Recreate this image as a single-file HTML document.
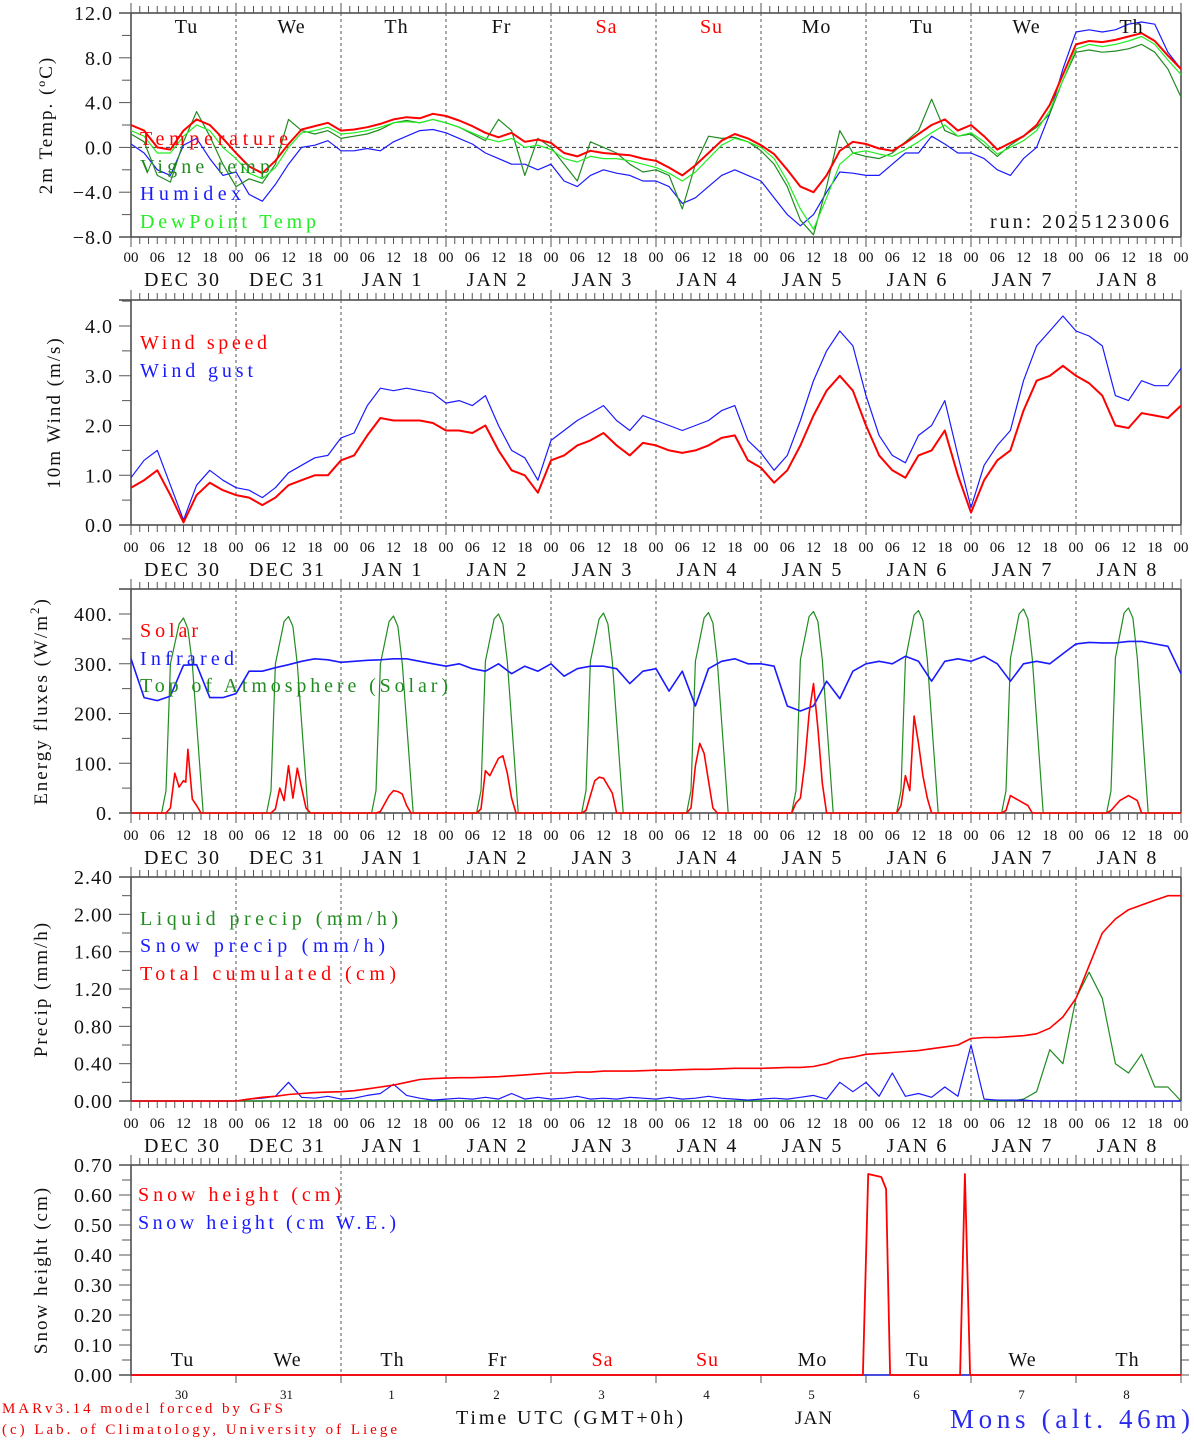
<!DOCTYPE html>
<html><head><meta charset="utf-8"><style>
html,body{margin:0;padding:0;background:#fff;}
svg{display:block;}
text{font-family:"Liberation Serif",serif;}
</style></head><body>
<svg id="chart" width="1194" height="1440" viewBox="0 0 1194 1440" xmlns="http://www.w3.org/2000/svg">
<g id="axes"></g>
<g id="marks"></g>
<g id="labels"></g>
</svg>
<script>
// ---------- DATA (3-hourly, h = 0..240) ----------
const dayNames = ["Tu","We","Th","Fr","Sa","Su","Mo","Tu","We","Th"];
const dateLabels = [["DEC","30"],["DEC","31"],["JAN","1"],["JAN","2"],["JAN","3"],["JAN","4"],["JAN","5"],["JAN","6"],["JAN","7"],["JAN","8"]];
const dayNums = ["30","31","1","2","3","4","5","6","7","8"];
const hourTicks = ["00","06","12","18"];

const tempVals = [2.0,1.5,0.0,-0.2,1.5,2.5,2.0,0.8,-0.5,-1.7,-2.3,-1.2,0.3,1.6,1.9,2.2,1.5,
1.6,1.8,2.1,2.5,2.7,2.6,3.0,2.8,2.4,1.9,
1.3,0.9,1.3,0.5,0.7,0.4,-0.5,-0.8,-0.3,-0.5,
-0.6,-0.7,-1.0,-1.2,-1.8,-2.5,-1.6,-0.5,0.6,1.2,
0.8,0.2,-0.6,-2.0,-3.5,-4.0,-2.5,-0.3,0.5,0.3,
-0.1,-0.3,0.4,1.2,2.0,2.5,1.5,2.0,1.0,-0.2,
0.4,1.0,2.0,3.8,6.5,9.2,9.5,9.4,9.6,9.9,
10.2,9.5,8.2,7.0];
const vigneVals = [1.2,0.5,-2.5,-3.1,0.5,3.2,1.0,-1.5,-3.5,-2.8,-3.2,-1.5,2.5,1.5,1.2,1.5,0.8,
1.0,1.2,1.6,2.2,2.4,2.2,2.5,2.2,1.8,1.2,
0.6,2.5,1.5,-2.5,0.8,0.0,-1.5,-3.0,0.5,0.0,
-0.5,-1.5,-2.2,-2.0,-2.5,-5.5,-1.5,1.0,0.8,0.9,
0.5,-0.3,-1.5,-3.5,-6.5,-7.8,-3.5,1.5,-0.5,-0.8,
-1.0,-0.5,0.5,1.5,4.3,1.5,1.0,1.2,0.2,-0.8,
0.2,1.0,1.8,3.0,6.0,8.5,8.7,8.5,8.6,8.8,
9.2,8.5,7.0,4.5];
const humidexVals = [0.3,-0.5,-2.0,-2.5,0.2,0.8,-1.0,-2.5,-2.2,-4.2,-4.8,-3.3,-1.5,0.0,0.2,0.6,-0.3,
-0.3,-0.1,-0.3,0.5,1.0,1.5,1.6,1.3,0.8,0.3,
-0.5,-1.0,-1.5,-1.5,-2.0,-1.5,-3.0,-3.5,-2.5,-2.0,
-2.3,-2.5,-3.0,-3.0,-3.5,-5.0,-4.5,-3.5,-2.5,-2.0,
-2.5,-3.0,-4.5,-6.0,-7.0,-6.0,-4.0,-2.2,-2.3,-2.5,
-2.5,-1.5,-0.5,-0.5,1.0,0.3,-0.5,-0.5,-1.0,-2.0,
-2.5,-1.0,0.0,3.0,7.0,10.3,10.5,10.3,10.5,11.0,
11.2,11.0,8.5,7.0];
const dewVals = [1.5,1.0,-0.5,-0.5,1.0,2.0,1.5,0.0,-1.0,-2.3,-2.8,-1.8,0.0,1.3,1.5,1.8,1.2,
1.3,1.5,1.8,2.2,2.3,2.2,2.5,2.2,1.8,1.3,
0.8,0.5,0.8,0.0,0.2,-0.2,-1.0,-1.3,-0.8,-1.0,
-1.0,-1.2,-1.5,-1.8,-2.3,-3.0,-2.2,-1.0,0.2,0.8,
0.5,0.0,-1.0,-3.0,-5.5,-7.3,-4.5,-1.5,-0.5,-0.3,
-0.6,-0.8,-0.2,0.5,1.3,2.0,1.0,1.3,0.5,-0.6,
0.0,0.6,1.5,3.3,6.0,8.8,9.2,9.0,9.2,9.5,
9.9,9.2,7.8,6.5];

const windVals = [.75,.9,1.1,.6,.05,.6,.85,.7,.6,.55,.4,.55,.8,.9,1.0,1.0,1.3,
1.4,1.8,2.15,2.1,2.1,2.1,2.05,1.9,1.9,1.85,
2.0,1.5,1.1,1.0,0.65,1.3,1.4,1.6,1.7,1.85,
1.6,1.4,1.65,1.6,1.5,1.45,1.5,1.6,1.75,1.8,
1.3,1.15,0.85,1.1,1.6,2.2,2.7,3.0,2.7,2.0,
1.4,1.1,0.95,1.4,1.5,1.9,1.0,0.25,0.9,1.3,
1.5,2.3,2.9,3.0,3.2,3.0,2.85,2.6,2.0,1.95,
2.25,2.2,2.15,2.4];
const gustVals = [.95,1.3,1.5,.8,.1,.8,1.1,.9,.75,.7,.55,.75,1.05,1.2,1.35,1.4,1.75,
1.85,2.4,2.75,2.7,2.75,2.7,2.65,2.45,2.5,2.4,
2.6,2.0,1.5,1.35,0.9,1.7,1.9,2.1,2.25,2.4,
2.1,1.9,2.2,2.1,2.0,1.9,2.0,2.1,2.3,2.4,
1.7,1.45,1.1,1.4,2.1,2.9,3.5,3.9,3.6,2.6,
1.8,1.4,1.25,1.8,2.0,2.5,1.4,0.35,1.2,1.6,
1.9,2.9,3.6,3.9,4.2,3.9,3.8,3.6,2.6,2.5,
2.9,2.8,2.8,3.15];

const infraredVals = [310,232,226,235,297,298,232,232,240,285,285,292,298,305,310,308,303,
305,307,308,310,310,305,300,295,300,290,
285,300,280,295,285,300,275,290,295,295,
290,260,285,290,245,285,215,290,305,310,
300,300,295,215,205,215,265,230,285,300,
305,300,315,305,265,305,310,305,315,300,
265,300,305,300,320,340,343,342,342,345,
345,340,335,280];
// [hour, W/m2]
const toaPoints = [[0,0],[7,0],[8,45],[9,300],[11,380],[12,392],[13,370],[14,300],[16.5,0],
[31,0],[32,45],[33,300],[35,385],[36,395],[37,375],[38,300],[40.5,0],
[55,0],[56,45],[57,300],[59,385],[60,396],[61,375],[62,300],[64.5,0],
[79,0],[80,45],[81,305],[83,390],[84,400],[85,380],[86,305],[88.5,0],
[103,0],[104,45],[105,305],[107,390],[108,402],[109,380],[110,305],[112.5,0],
[127,0],[128,45],[129,305],[131,392],[132,403],[133,382],[134,305],[136.5,0],
[151,0],[152,45],[153,308],[155,395],[156,405],[157,385],[158,308],[160.5,0],
[175,0],[176,45],[177,308],[179,398],[180,407],[181,387],[182,308],[184.5,0],
[199,0],[200,45],[201,310],[203,400],[204,410],[205,390],[206,310],[208.5,0],
[223,0],[224,45],[225,312],[227,402],[228,412],[229,392],[230,312],[232.5,0],[240,0]];
const solarPoints = [[0,0],[8,0],[9,10],[10,80],[11,52],[12,65],[12.5,62],[13,128],[14,28],[15,15],[16,0],
[32,0],[33,8],[34,50],[35,25],[36,95],[37,30],[38,90],[39,50],[40,10],[41,0],
[56,0],[57,3],[59,35],[60,45],[61,43],[62,38],[63,15],[64,0],
[79,0],[80,8],[81,85],[82,75],[84,110],[85,115],[86,80],[87,30],[88,0],
[103,0],[104,5],[106,65],[107,72],[108,70],[110,40],[111,0],
[127,0],[128,10],[129,95],[130,140],[131,120],[132,65],[133,10],[134,0],
[151,0],[152,20],[153,30],[154,100],[155,200],[156,260],[157,170],[158,60],[159,0],
[175,0],[176,15],[177,75],[178,45],[179,195],[180,140],[181,75],[182,30],[183,0],
[199,0],[200,5],[201,35],[203,25],[205,15],[206,0],
[223,0],[224,5],[226,25],[228,35],[230,25],[231,0],[240,0]];

const liquidVals = [0,0,0,0,0,0,0,0,0,0,0,0,0,0,0,0,0,
0,0,0,0,0,0,0,0,0,0,
0,0,0,0,0,0,0,0,0,0,
0,0,0,0,0,0,0,0,0,0,
0,0,0,0,0,0,0,0,0,0,
0,0,0,0,0,0,0,0,0,0,
0,0.02,0.1,0.55,0.4,1.1,1.38,1.1,0.4,0.3,
0.5,0.15,0.15,0];
const snowPrecipVals = [0,0,0,0,0,0,0,0,0,0.02,0.03,0.05,0.2,0.04,0.03,0.05,0.02,
0.03,0.06,0.08,0.18,0.06,0.03,0.01,0.02,0.03,0.02,
0.04,0.02,0.08,0.02,0.04,0.02,0.03,0.05,0.02,0.03,
0.02,0.04,0.03,0.02,0.04,0.02,0.03,0.05,0.03,0.02,
0.01,0.02,0.03,0.02,0.04,0.06,0.02,0.2,0.1,0.2,
0.05,0.3,0.05,0.08,0.04,0.15,0.05,0.6,0.02,0.01,
0.01,0.01,0.0,0.0,0.0,0.0,0.0,0.0,0.0,0.0,
0,0,0,0];
const cumulVals = [0,0,0,0,0,0,0,0,0,0.02,0.04,0.05,0.07,0.08,0.09,0.095,0.1,
0.11,0.13,0.15,0.17,0.2,0.23,0.24,0.245,0.25,0.25,
0.255,0.26,0.27,0.28,0.29,0.3,0.3,0.31,0.31,0.32,
0.32,0.32,0.325,0.33,0.33,0.335,0.34,0.34,0.345,0.35,
0.35,0.35,0.355,0.36,0.36,0.37,0.4,0.45,0.47,0.5,
0.51,0.52,0.53,0.54,0.56,0.58,0.6,0.67,0.68,0.68,
0.69,0.7,0.72,0.78,0.9,1.1,1.45,1.8,1.95,2.05,
2.1,2.15,2.2,2.2];
const snowHeightPoints = [[0,0],[167.3,0],[168.5,0.67],[171.5,0.66],[172.6,0.62],[173.5,0],[189.5,0],[190.6,0.67],[191.8,0],[240,0]];
const snowWEPoints = [[0,0],[240,0]];

// ---------- AXES ----------
const NS="http://www.w3.org/2000/svg";
const X0=131, X1=1181;
function xS(h){return X0+(h/240)*(X1-X0);}
const panels = {
  t:{top:13,bot:237,min:-8,max:12},
  w:{top:300,bot:525,min:0,max:225/49.75},
  e:{top:589,bot:813,min:0,max:224/0.4975},
  p:{top:877,bot:1101,min:0,max:2.4},
  s:{top:1165,bot:1375,min:0,max:0.7}
};
function yS(p,v){const P=panels[p];return P.bot-(v-P.min)/(P.max-P.min)*(P.bot-P.top);}
function el(tag,attrs,parent,txt){const e=document.createElementNS(NS,tag);for(const k in attrs)e.setAttribute(k,attrs[k]);if(txt!==undefined)e.textContent=txt;(parent||document.getElementById('axes')).appendChild(e);return e;}
const axesG=document.getElementById('axes'), marksG=document.getElementById('marks'), labG=document.getElementById('labels');

function drawPanel(key,name,major,minor,fmt,title,titleX,bottomTicks){
  const P=panels[key];
  const g=el('g',{},axesG);
  
  
  el('line',{x1:X0,y1:P.top,x2:X0,y2:P.bot,stroke:'#444','stroke-width':1.5},g);
  el('line',{x1:X1,y1:P.top,x2:X1,y2:P.bot,stroke:'#444','stroke-width':1.5},g);
  el('line',{x1:X0-12,y1:P.top,x2:X1,y2:P.top,stroke:'#444','stroke-width':1.5},g);
  el('line',{x1:X0-12,y1:P.bot,x2:X1,y2:P.bot,stroke:'#444','stroke-width':1.5},g);
  for(let h=0;h<=240;h+=2){
    const x=xS(h), big=h%24===0;
    el('line',{x1:x,y1:P.top,x2:x,y2:P.top-(big?10:7),stroke:'#555','stroke-width':1},g);
    if(bottomTicks) el('line',{x1:x,y1:P.bot,x2:x,y2:P.bot+(big?10:7),stroke:'#555','stroke-width':1},g);
    else if(big) el('line',{x1:x,y1:P.bot,x2:x,y2:P.bot+8,stroke:'#555','stroke-width':1},g);
  }
  for(let d=1;d<10;d++){
    if(key==='s' && d!==2) continue;
    el('line',{x1:xS(d*24),y1:P.top,x2:xS(d*24),y2:P.bot,stroke:'#555','stroke-width':1,'stroke-dasharray':'3,3'},g);
  }
  for(let v=P.min; v<=P.max+1e-6; v+=minor){
    const y=yS(key,v); const isMaj=Math.abs(Math.round(v/major)*major-v)<1e-6;
    el('line',{x1:X0,y1:y,x2:X0-(isMaj?12:9),y2:y,stroke:'#555','stroke-width':1},g);
    if(key==='s') el('line',{x1:X1,y1:y,x2:X1+8,y2:y,stroke:'#555','stroke-width':1},g);
    if(isMaj){const t=el('text',{x:113,y:y+7,'text-anchor':'end','font-size':20,fill:'#111','letter-spacing':'1'},g,fmt(v));
      
      }
  }
  const cy=(P.top+P.bot)/2;
  const tt=el('text',{x:titleX,y:cy,'text-anchor':'middle','font-size':19,fill:'#111',transform:`rotate(-90 ${titleX} ${cy})`,'letter-spacing':'2'},g);
  tt.innerHTML=title;
  
  
}
function minus(s){return s.replace('-','\u2212');}
drawPanel('t','temperature',4,2,v=>minus(v.toFixed(1)),'2m Temp. (ºC)',52,true);
drawPanel('w','wind',1,0.5,v=>v.toFixed(1),'10m Wind (m/s)',60,true);
drawPanel('e','energy',100,50,v=>v.toFixed(0)+'.','Energy fluxes (W/m<tspan dy="-8" font-size="13">2</tspan><tspan dy="8">)</tspan>',47,true);
drawPanel('p','precip',0.4,0.2,v=>v.toFixed(2),'Precip (mm/h)',47,true);
drawPanel('s','snow',0.1,0.05,v=>v.toFixed(2),'Snow height (cm)',47,false);
el('line',{x1:X0,y1:yS('t',0),x2:X1,y2:yS('t',0),stroke:'#333','stroke-width':1,'stroke-dasharray':'4,3'},axesG);

[255,545,833,1121].forEach((yy,pi)=>{
  for(let d=0;d<10;d++){
    for(let k=0;k<4;k++){
      const t=el('text',{x:xS(d*24+k*6),y:yy+7,'text-anchor':'middle','font-size':15,fill:'#111'},labG,hourTicks[k]);
      
      
    }
    const dl=el('text',{x:xS(d*24+12)-1,y:yy+31,'text-anchor':'middle','font-size':20,fill:'#111','xml:space':'preserve','letter-spacing':'2'},labG,dateLabels[d][0]+(dateLabels[d][1].length===1?'   ':'  ')+dateLabels[d][1]);
    
    
  }
  const t=el('text',{x:xS(240),y:yy+7,'text-anchor':'middle','font-size':15,fill:'#111'},labG,'00');
  
  
});
for(let d=0;d<10;d++){
  const c=(d===4||d===5)?'#f00':'#111';
  const a=el('text',{x:xS(d*24+12)+3,y:33,'text-anchor':'middle','font-size':20,fill:c,'letter-spacing':'1'},labG,dayNames[d]);
  
  
  const b=el('text',{x:xS(d*24+12)-1,y:1366,'text-anchor':'middle','font-size':20,fill:c,'letter-spacing':'1'},labG,dayNames[d]);
  
  
  const n=el('text',{x:xS(d*24+12)-2,y:1399,'text-anchor':'middle','font-size':13,fill:'#111'},labG,dayNums[d]);
  
  
}

// ---------- SERIES ----------
function pathFromVals(p,vals){return vals.map((v,i)=>(i?'L':'M')+xS(i*3).toFixed(1)+','+yS(p,v).toFixed(1)).join('');}
function pathFromPts(p,pts){return pts.map((q,i)=>(i?'L':'M')+xS(q[0]).toFixed(1)+','+yS(p,q[1]).toFixed(1)).join('');}
function line(d,color,w,name){
  const e=el('path',{d:d,fill:'none',stroke:color,'stroke-width':w,'stroke-linejoin':'round'},marksG);
  
  
}
line(pathFromVals('t',humidexVals),'#1a1aff',1.2,'humidex-line');
line(pathFromVals('t',vigneVals),'#228b22',1.2,'vigne-temp-line');
line(pathFromVals('t',dewVals),'#22ee22',1.2,'dewpoint-line');
line(pathFromVals('t',tempVals),'#f00',2,'temperature-line');
line(pathFromVals('w',gustVals),'#1a1aff',1.2,'wind-gust-line');
line(pathFromVals('w',windVals),'#f00',2,'wind-speed-line');
line(pathFromPts('e',toaPoints),'#228b22',1.2,'toa-solar-line');
line(pathFromVals('e',infraredVals),'#1a1aff',1.6,'infrared-line');
line(pathFromPts('e',solarPoints),'#f00',1.6,'solar-line');
line(pathFromVals('p',liquidVals),'#228b22',1.2,'liquid-precip-line');
line(pathFromVals('p',snowPrecipVals),'#1a1aff',1.2,'snow-precip-line');
line(pathFromVals('p',cumulVals),'#f00',1.6,'total-cumulated-line');
line(pathFromPts('s',snowWEPoints),'#1a1aff',1.2,'snow-we-line');
line(pathFromPts('s',snowHeightPoints),'#f00',1.8,'snow-height-line');

// ---------- LEGENDS ----------
function leg(x,y,txt,color,name,w){
  const t=el('text',{x:x,y:y,'font-size':20,fill:color,textLength:w,lengthAdjust:'spacing'},labG,txt);
  
  
}
leg(140,145,'Temperature','#f00','legend-temperature',148);
leg(140,173,'Vigne temp','#228b22','legend-vigne-temp',130);
leg(140,200,'Humidex','#1a1aff','legend-humidex',101);
leg(140,228,'DewPoint Temp','#22ee22','legend-dewpoint',176);
leg(140,349,'Wind speed','#f00','legend-wind-speed',127);
leg(140,377,'Wind gust','#1a1aff','legend-wind-gust',113);
leg(140,637,'Solar','#f00','legend-solar',58);
leg(140,665,'Infrared','#1a1aff','legend-infrared',94);
leg(140,692,'Top of Atmosphere (Solar)','#228b22','legend-toa',308);
leg(140,925,'Liquid precip (mm/h)','#228b22','legend-liquid-precip',258);
leg(140,952,'Snow precip (mm/h)','#1a1aff','legend-snow-precip',245);
leg(140,980,'Total cumulated (cm)','#f00','legend-total-cumulated',256);
leg(138,1201,'Snow height (cm)','#f00','legend-snow-height',203);
leg(138,1229,'Snow height (cm W.E.)','#1a1aff','legend-snow-we',258);
leg(990,228,'run: 2025123006','#111','run-label',179);

function txt(x,y,s,size,color,name,w){
  const t=el('text',{x:x,y:y,'font-size':size,fill:color,textLength:w,lengthAdjust:'spacing'},labG,s);
  
  
}
txt(456,1424,'Time UTC (GMT+0h)',20,'#111','x-axis-title',227);
txt(795,1424,'JAN',19,'#111','month-label',37);
txt(2,1413,'MARv3.14 model forced by GFS',15,'#e00','model-credit',281);
txt(2,1434,'(c) Lab. of Climatology, University of Liege',15,'#e00','lab-credit',395);
txt(950,1428,'Mons (alt. 46m)',27,'#2a2aee','station-name',240);
</script>
</body></html>
